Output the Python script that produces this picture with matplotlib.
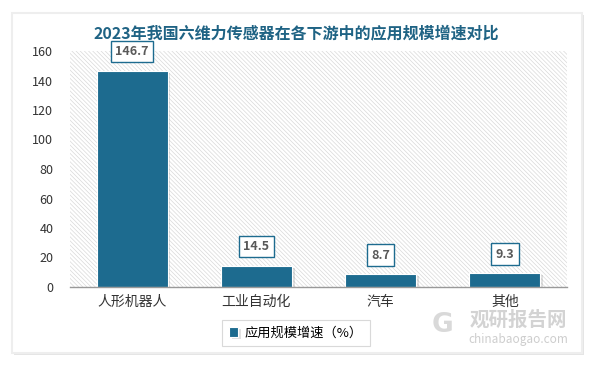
import matplotlib
matplotlib.use("Agg")
import matplotlib.pyplot as plt
import matplotlib.patheffects as pe
from matplotlib.patches import FancyBboxPatch, Rectangle

plt.rcParams["font.family"] = ["Noto Sans CJK SC", "DejaVu Sans"]
plt.rcParams["hatch.linewidth"] = 0.5
plt.rcParams["hatch.color"] = "#d9d9d9"

# 数据
categories = ["人形机器人", "工业自动化", "汽车", "其他"]
growth = [146.7, 14.5, 8.7, 9.3]
series_name = "应用规模增速（%）"
title = "2023年我国六维力传感器在各下游中的应用规模增速对比"

BAR = "#1d6b8f"
TITLE_C = "#1f6384"

fig = plt.figure(figsize=(5.94, 3.66), dpi=100)

# 外框卡片（带阴影）
card = FancyBboxPatch((12 / 594, 13 / 366), 570 / 594, 340 / 366,
                      boxstyle="square,pad=0", transform=fig.transFigure,
                      facecolor="white", edgecolor="#eeeeee", linewidth=1.5, zorder=-10,
                      path_effects=[pe.SimplePatchShadow(offset=(1.5, -1.5), shadow_rgbFace="#aaaaaa", alpha=0.3),
                                    pe.Normal()])
fig.patches.append(card)

ax = fig.add_axes([70 / 594, 1 - 287 / 366, 497 / 594, 236 / 366])
ax.set_facecolor("white")
ax.add_patch(Rectangle((0, 0), 1, 1, transform=ax.transAxes, facecolor="white",
                       hatch="\\" * 8, edgecolor="#d9d9d9", linewidth=0, zorder=0))

x = range(len(categories))
bars = ax.bar(x, growth, width=0.57, color=BAR, edgecolor="white", linewidth=0.8, zorder=3,
              label=series_name)
for b in bars:
    b.set_path_effects([pe.SimplePatchShadow(offset=(2, -1.5), shadow_rgbFace="#888888", alpha=0.25),
                        pe.Normal()])

for xi, v in zip(x, growth):
    ax.annotate(f"{v}", (xi, v), xytext=(0, 9), textcoords="offset points",
                ha="center", va="bottom", fontsize=9, fontweight="bold", color="#595959",
                bbox=dict(boxstyle="square,pad=0.35", facecolor="white", edgecolor=BAR, linewidth=1),
                zorder=5)

ax.set_xlim(-0.5, len(categories) - 0.5)
ax.set_ylim(0, 160)
ax.set_yticks(range(0, 161, 20))
ax.set_xticks(list(x))
ax.set_xticklabels(categories, fontsize=10, color="#333333")
ax.tick_params(axis="y", length=0, labelsize=9, labelcolor="#333333", pad=12)
ax.tick_params(axis="x", length=0, pad=6)
for s in ["top", "right", "left"]:
    ax.spines[s].set_visible(False)
ax.spines["bottom"].set_color("#999999")
ax.spines["bottom"].set_linewidth(1)
ax.spines["bottom"].set_zorder(4)

fig.text(296 / 594, 1 - 33 / 366, title, ha="center", va="center", fontsize=11.5,
         fontweight="bold", color=TITLE_C)

leg = fig.legend(handles=[bars], labels=[series_name], loc="center",
                 bbox_to_anchor=(296 / 594, 1 - 333 / 366), frameon=True, fancybox=False,
                 fontsize=9.5, handlelength=0.7, handleheight=0.7, handletextpad=0.5,
                 borderpad=0.5)
leg.get_frame().set_edgecolor("#d0d0d0")
leg.get_frame().set_linewidth(0.8)

# 水印
fig.text(518 / 594, 1 - 320 / 366, "观研报告网", ha="center", va="center", fontsize=14,
         fontweight="bold", color="#c8c8c8", alpha=0.8)
fig.text(518 / 594, 1 - 339 / 366, "chinabaogao.com", ha="center", va="center", fontsize=8.5,
         color="#c8c8c8", alpha=0.9)
fig.text(442 / 594, 1 - 325 / 366, "G", ha="center", va="center", fontsize=19,
         fontweight="bold", color="#d0d0d0", alpha=0.8, family="DejaVu Sans")

fig.savefig("out.png", dpi=100)
